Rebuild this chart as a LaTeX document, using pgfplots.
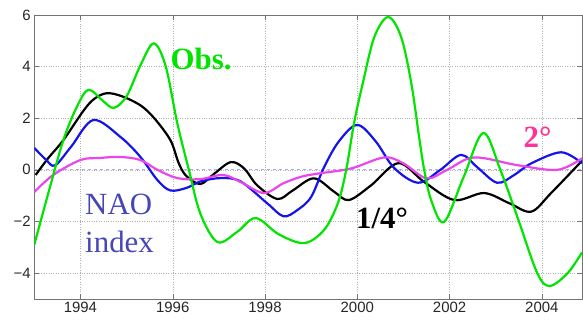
\documentclass[border=0pt]{standalone}
\usepackage{pgfplots}
\pgfplotsset{compat=1.18}
\usepackage{fontspec}
\setmainfont{Liberation Serif}
\newfontfamily\tickfont{Liberation Sans}
\definecolor{obsgreen}{RGB}{0,228,0}
\definecolor{naoblue}{RGB}{20,20,235}
\definecolor{twomag}{RGB}{235,70,235}
\definecolor{naotext}{RGB}{70,70,185}
\definecolor{twotext}{RGB}{255,50,150}
\definecolor{zeroline}{RGB}{170,170,240}
\begin{document}
\begin{tikzpicture}
\begin{axis}[name=ax, scale only axis, width=548bp, height=284bp,
  xmin=1993, xmax=2004.87, ymin=-5, ymax=6,
  xtick={1994,1996,1998,2000,2002,2004},
  xticklabels={1994,1996,1998,2000,2002,2004},
  ytick={-4,-2,0,2,4,6},
  yticklabels={−4,−2,0,2,4,6},
  tick label style={font=\tickfont\fontsize{15}{18}\selectfont, text=black!85},
  grid=major, grid style={dotted, black!30},
  axis line style={black!55}, tick style={black!55},
  tick align=inside, major tick length=5bp,
  every tick/.style={black!55},
]
\addplot[dashed, zeroline, line width=0.8bp] coordinates {(1993,0) (2004.87,0)};
% black 1/4 deg
\addplot[black, line width=2.2bp, smooth, tension=0.55] coordinates {
(1993.03,-0.2) (1993.3,0.45) (1993.63,1.15) (1994.07,2.3) (1994.3,2.75) (1994.57,2.97)
(1994.9,2.85) (1995.3,2.5) (1995.6,2.0) (1995.95,1.15) (1996.13,0.26) (1996.3,-0.25)
(1996.6,-0.55) (1996.9,-0.15) (1997.26,0.3) (1997.55,0.05) (1997.83,-0.6) (1998.27,-1.13)
(1998.6,-0.8) (1999.06,-0.33) (1999.5,-0.85) (1999.82,-1.17) (2000.3,-0.6) (2000.89,0.26)
(2001.45,-0.47) (2002.1,-1.17) (2002.75,-0.9) (2003.3,-1.3) (2003.77,-1.62) (2004.2,-0.9)
(2004.87,0.35)};
% blue NAO
\addplot[naoblue, line width=2.2bp, smooth, tension=0.55] coordinates {
(1993.0,0.85) (1993.25,0.4) (1993.45,0.17) (1993.8,0.9) (1994.28,1.93) (1994.87,1.27)
(1995.3,0.5) (1995.67,-0.4) (1995.95,-0.8) (1996.3,-0.7)
(1996.6,-0.45) (1997.04,-0.32) (1997.47,-0.45) (1998.05,-1.3) (1998.4,-1.8) (1998.7,-1.56) (1999.0,-1.05)
(1999.28,0.1) (1999.6,1.1) (2000.0,1.74) (2000.4,1.1) (2000.8,0.07) (2001.32,-0.5)
(2001.8,0) (2002.25,0.58) (2002.6,0.1) (2003.03,-0.5) (2003.4,-0.2) (2003.77,0.25)
(2004.42,0.68) (2004.87,0.25)};
% magenta 2 deg
\addplot[twomag, line width=2.2bp, smooth, tension=0.55] coordinates {
(1993.0,-0.86) (1993.41,-0.2) (1994.0,0.38) (1994.43,0.46) (1994.86,0.5) (1995.3,0.38)
(1995.67,0) (1996.1,-0.32) (1996.6,-0.36) (1997.1,-0.2) (1997.5,-0.5) (1997.98,-0.9) (1998.4,-0.52)
(1998.78,-0.27) (1999.13,-0.15) (1999.86,0.05) (2000.58,0.48) (2001.0,0.25) (2001.5,-0.33)
(2001.95,0) (2002.53,0.48) (2003.47,0.18) (2004.34,0.0) (2004.87,0.45)};
% green obs
\addplot[obsgreen, line width=2.2bp, smooth, tension=0.55] coordinates {
(1993.0,-2.9) (1993.34,-0.67) (1993.63,1.15) (1993.92,2.43) (1994.17,3.1) (1994.47,2.7)
(1994.72,2.4) (1995.0,2.85) (1995.3,4.05) (1995.59,4.9) (1995.85,4.0) (1996.1,1.8)
(1996.35,0) (1996.6,-1.7) (1996.97,-2.8) (1997.4,-2.4) (1997.8,-1.87) (1998.3,-2.5)
(1998.85,-2.84) (1999.28,-2.33) (1999.58,-1.29) (1999.76,0.0) (1999.93,1.81) (2000.12,3.36)
(2000.37,5.15) (2000.67,5.92) (2000.95,5.15) (2001.17,3.36) (2001.34,1.27) (2001.45,0)
(2001.6,-1.17) (2001.88,-2.02) (2002.3,-0.3) (2002.73,1.43)
(2003.1,0.0) (2003.47,-1.83) (2003.9,-4.0) (2004.17,-4.5) (2004.56,-4.0) (2004.87,-3.2)};
\node[anchor=base west, inner sep=0, text=obsgreen, font=\bfseries\fontsize{31}{37}\selectfont] at (axis cs:1995.95,3.87) {Obs.};
\node[anchor=base west, inner sep=0, text=naotext, font=\fontsize{31}{37}\selectfont] at (axis cs:1994.10,-1.75) {NAO};
\node[anchor=base west, inner sep=0, text=naotext, font=\fontsize{31}{37}\selectfont] at (axis cs:1994.10,-3.22) {index};
\node[anchor=base west, inner sep=0, text=black, font=\bfseries\fontsize{31}{37}\selectfont] at (axis cs:1999.97,-2.26) {1/4°};
\node[anchor=base west, inner sep=0, text=twotext, font=\bfseries\fontsize{31}{37}\selectfont] at (axis cs:2003.60,0.88) {2°};
\end{axis}
\path (ax.north west) ++(-34.3bp,15bp);
\path (ax.south east) ++(1bp,-24bp);
\end{tikzpicture}
\end{document}
